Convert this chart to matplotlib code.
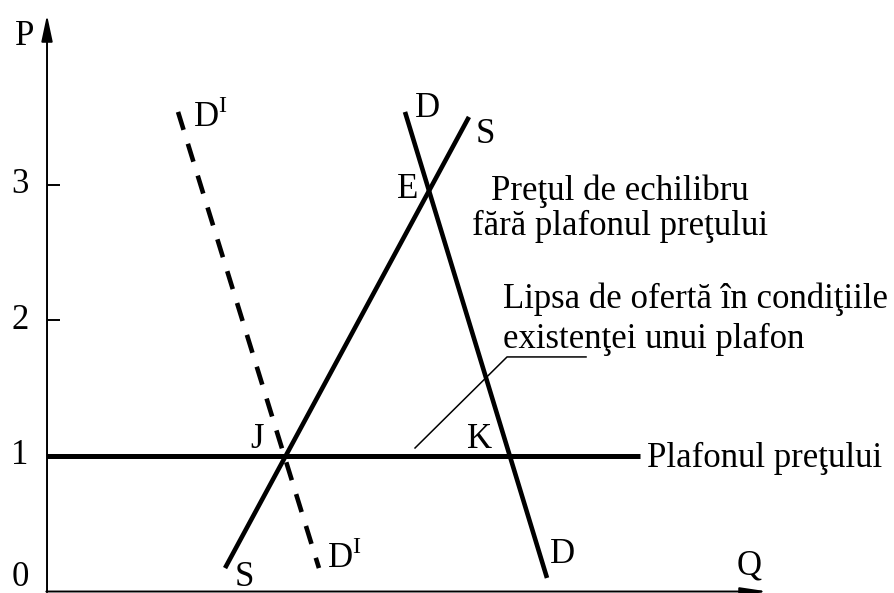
import matplotlib
matplotlib.use("Agg")
import matplotlib.pyplot as plt

plt.rcParams['font.family'] = ['Liberation Serif', 'DejaVu Serif']
plt.rcParams['mathtext.fontset'] = 'custom'
plt.rcParams['mathtext.rm'] = 'Liberation Serif'
plt.rcParams['lines.scale_dashes'] = False

# ---- data (price units on y, quantity units on x) ----
supply_q = [1.314, 3.114]
supply_p = [0.173, 3.502]
demand_q = [2.642, 3.690]
demand_p = [3.539, 0.100]
demand2_q = [0.967, 2.007]
demand2_p = [3.539, 0.173]
ceiling_price = 1.0
ceiling_q_end = 4.376
ytick_values = [1, 2, 3]
ytick_labels = ["1", "2", "3"]

W, H, DPI = 894, 593, 100
fig = plt.figure(figsize=(W / DPI, H / DPI), dpi=DPI)
ax = fig.add_axes([0, 0, 1, 1])
ax.set_xlim(-0.347, 6.251)
ax.set_ylim(-0.011, 4.365)
ax.axis('off')

FS = 25
lw = 3.3

# axes with arrows
ax.annotate('', xy=(0, 4.255), xytext=(0, -0.005),
            arrowprops=dict(arrowstyle='-|>,head_length=0.8,head_width=0.17',
                            lw=1.4, color='black', mutation_scale=20,
                            shrinkA=0, shrinkB=0))
ax.annotate('', xy=(5.321, 0.0), xytext=(-0.005, 0.0),
            arrowprops=dict(arrowstyle='-|>,head_length=0.8,head_width=0.12',
                            lw=1.4, color='black', mutation_scale=20,
                            shrinkA=0, shrinkB=0))

# ticks
for v, lab in zip(ytick_values, ytick_labels):
    ax.plot([0, 0.096], [v, v], color='black', lw=1.4, solid_capstyle='butt')
    ax.text(-0.199, v, lab, fontsize=FS, ha='center', va='center')
ax.text(-0.199, 0.107, "0", fontsize=FS, ha='center', va='center')
ax.text(-0.236, 4.033, "P", fontsize=FS, ha='left', va='baseline')
ax.text(5.092, 0.122, "Q", fontsize=FS, ha='left', va='baseline')

# price ceiling
ax.plot([0, ceiling_q_end], [ceiling_price, ceiling_price], color='black',
        lw=3.6, solid_capstyle='butt')

# supply and demand
ax.plot(supply_q, supply_p, color='black', lw=lw, solid_capstyle='butt')
ax.plot(demand_q, demand_p, color='black', lw=lw, solid_capstyle='butt')
ax.plot(demand2_q, demand2_p, color='black', lw=lw, dashes=(13.5, 10.5),
        dash_capstyle='butt')

# leader line for shortage
ax.plot([2.716, 3.395, 3.978], [1.059, 1.731, 1.731], color='black', lw=1.1)

# curve labels
ax.text(1.077, 3.428, r"D$^{\mathrm{I}}$", fontsize=FS, ha='left', va='baseline')
ax.text(2.716, 3.502, "D", fontsize=FS, ha='left', va='baseline')
ax.text(3.166, 3.310, "S", fontsize=FS, ha='left', va='baseline')
ax.text(2.583, 2.904, "E", fontsize=FS, ha='left', va='baseline')
ax.text(1.498, 1.059, "J", fontsize=FS, ha='left', va='baseline')
ax.text(3.100, 1.059, "K", fontsize=FS, ha='left', va='baseline')
ax.text(1.387, 0.040, "S", fontsize=FS, ha='left', va='baseline')
ax.text(2.066, 0.173, r"D$^{\mathrm{I}}$", fontsize=FS, ha='left', va='baseline')
ax.text(3.712, 0.210, "D", fontsize=FS, ha='left', va='baseline')

# explanatory texts
ax.text(4.229, 2.889, "Preţul de echilibru", fontsize=FS, ha='center', va='baseline')
ax.text(4.229, 2.631, "fără plafonul preţului", fontsize=FS, ha='center', va='baseline')
ax.text(3.365, 2.092, "Lipsa de ofertă în condiţiile", fontsize=FS, ha='left', va='baseline')
ax.text(3.365, 1.797, "existenţei unui plafon", fontsize=FS, ha='left', va='baseline')
ax.text(4.428, 0.919, "Plafonul preţului", fontsize=FS, ha='left', va='baseline')

fig.savefig("out.png", dpi=DPI, facecolor='white')
